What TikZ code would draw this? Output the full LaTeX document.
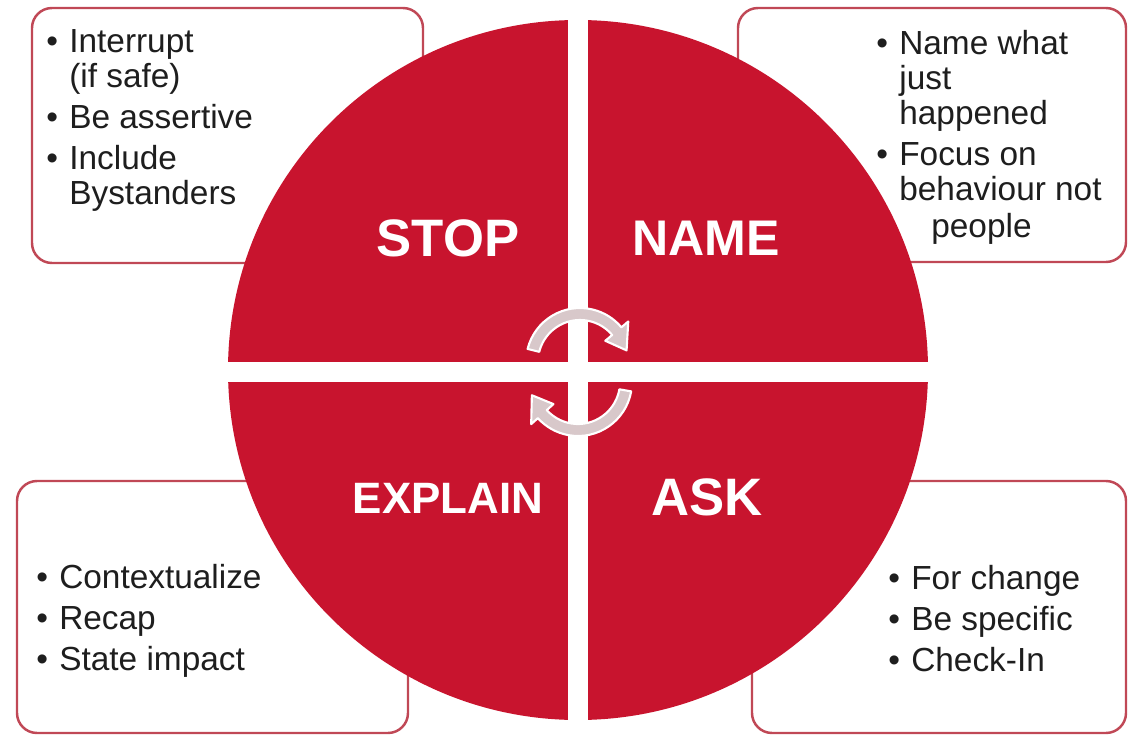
\documentclass[tikz,border=0pt]{standalone}
\usepackage{fontspec}
\setmainfont{Liberation Sans}
\usetikzlibrary{calc}
\definecolor{circleRed}{RGB}{200,20,46}
\definecolor{boxRed}{RGB}{192,72,86}
\definecolor{arrowGray}{RGB}{216,200,202}
\definecolor{bodyText}{RGB}{30,30,30}
\newcommand{\itemText}[1]{\makebox[0.46cm][l]{\textbullet}#1}
\newcommand{\moreText}[1]{\hspace*{0.46cm}#1}
\newcommand{\sideBox}[2]{%%
  \filldraw[boxStyle] (#1) rectangle (#2);
}
\newcommand{\turnArrow}[4]{%%
  %% A bent band with its head at the far end.
  \begin{scope}[shift={(#1)}]
    \filldraw[arrowStyle] (#2:\arrowOut) arc[start angle=#2,end angle=#3,radius=\arrowOut]
      -- (#3:\wingOut) -- (#4:\arrowMid) -- (#3:\wingIn) -- (#3:\arrowIn)
      arc[start angle=#3,end angle=#2,radius=\arrowIn] -- cycle;
  \end{scope}
}

\begin{document}
\begin{tikzpicture}[%%
  x=0.02cm,y=0.02cm,%%
  boxStyle/.style={draw=boxRed,fill=white,line width=1.4pt,rounded corners=0.4cm},%%
  arrowStyle/.style={draw=white,fill=arrowGray,line width=1.2pt,line join=round},%%
  gapStyle/.style={fill=white},%%
  titleStyle/.style={text=white,font=\bfseries,inner sep=0pt},%%
  listStyle/.style={text=bodyText,align=left,inner sep=0pt,anchor=north west,%%
    font=\fontsize{19}{20}\selectfont}%%
]
%%
\useasboundingbox (0,0) rectangle (1129,735);
\pgfmathsetmacro{\radius}{350}
\pgfmathsetmacro{\arrowMid}{48}
\pgfmathsetmacro{\arrowOut}{54}
\pgfmathsetmacro{\arrowIn}{42}
\pgfmathsetmacro{\wingOut}{63}
\pgfmathsetmacro{\wingIn}{33}
%% Main points.
\coordinate (centre) at (578,365);
\coordinate (cross) at (578,363);
\coordinate (upperTurn) at (580,373);
\coordinate (lowerTurn) at (578,353);
%% The four text boxes.
\coordinate (stopBoxA) at (32,727);
\coordinate (stopBoxB) at (423,472);
\coordinate (nameBoxA) at (738,727);
\coordinate (nameBoxB) at (1126,473);
\coordinate (explainBoxA) at (17,254);
\coordinate (explainBoxB) at (408,2);
\coordinate (askBoxA) at (752,254);
\coordinate (askBoxB) at (1126,2);
\sideBox{stopBoxA}{stopBoxB}
\sideBox{nameBoxA}{nameBoxB}
\sideBox{explainBoxA}{explainBoxB}
\sideBox{askBoxA}{askBoxB}
%% The circle, cut into quarters.
\fill[circleRed] (centre) circle[radius=\radius];
\fill[gapStyle] ($(cross)+(-10,-360)$) rectangle ($(cross)+(10,360)$);
\fill[gapStyle] ($(cross)+(-360,-10)$) rectangle ($(cross)+(360,10)$);
%% The turning arrows.
\turnArrow{upperTurn}{166}{40}{14}
\turnArrow{lowerTurn}{-10}{-138}{-164}
%% The quarter titles.
\node[titleStyle,font=\fontsize{30}{30}\selectfont\bfseries] (stop) at (448,497) {STOP};
\node[titleStyle,font=\fontsize{28.5}{30}\selectfont\bfseries] (name) at (706,497) {NAME};
\node[titleStyle,font=\fontsize{25}{30}\selectfont\bfseries] (explain) at (448,237) {EXPLAIN};
\node[titleStyle,font=\fontsize{30}{30}\selectfont\bfseries] (ask) at (707,238) {ASK};
%% The lists.
\node[listStyle] (stopList) at (46,706) {%%
  \itemText{Interrupt}\\ \moreText{(if safe)}\\[3.3pt]
  \itemText{Be assertive}\\[3.3pt]
  \itemText{Include}\\ \moreText{Bystanders}};
\node[listStyle] (nameList) at (876,705) {%%
  \itemText{Name what}\\ \moreText{just}\\ \moreText{happened}\\[3.3pt]
  \itemText{Focus on}\\ \moreText{behaviour not}\\[1pt]
  \moreText{\hspace*{0.64cm}people}};
\node[listStyle] (explainList) at (36,171) {%%
  \itemText{Contextualize}\\[3.3pt]
  \itemText{Recap}\\[3.3pt]
  \itemText{State impact}};
\node[listStyle] (askList) at (888,170) {%%
  \itemText{For change}\\[3.3pt]
  \itemText{Be specific}\\[3.3pt]
  \itemText{Check-In}};
\end{tikzpicture}
\end{document}
